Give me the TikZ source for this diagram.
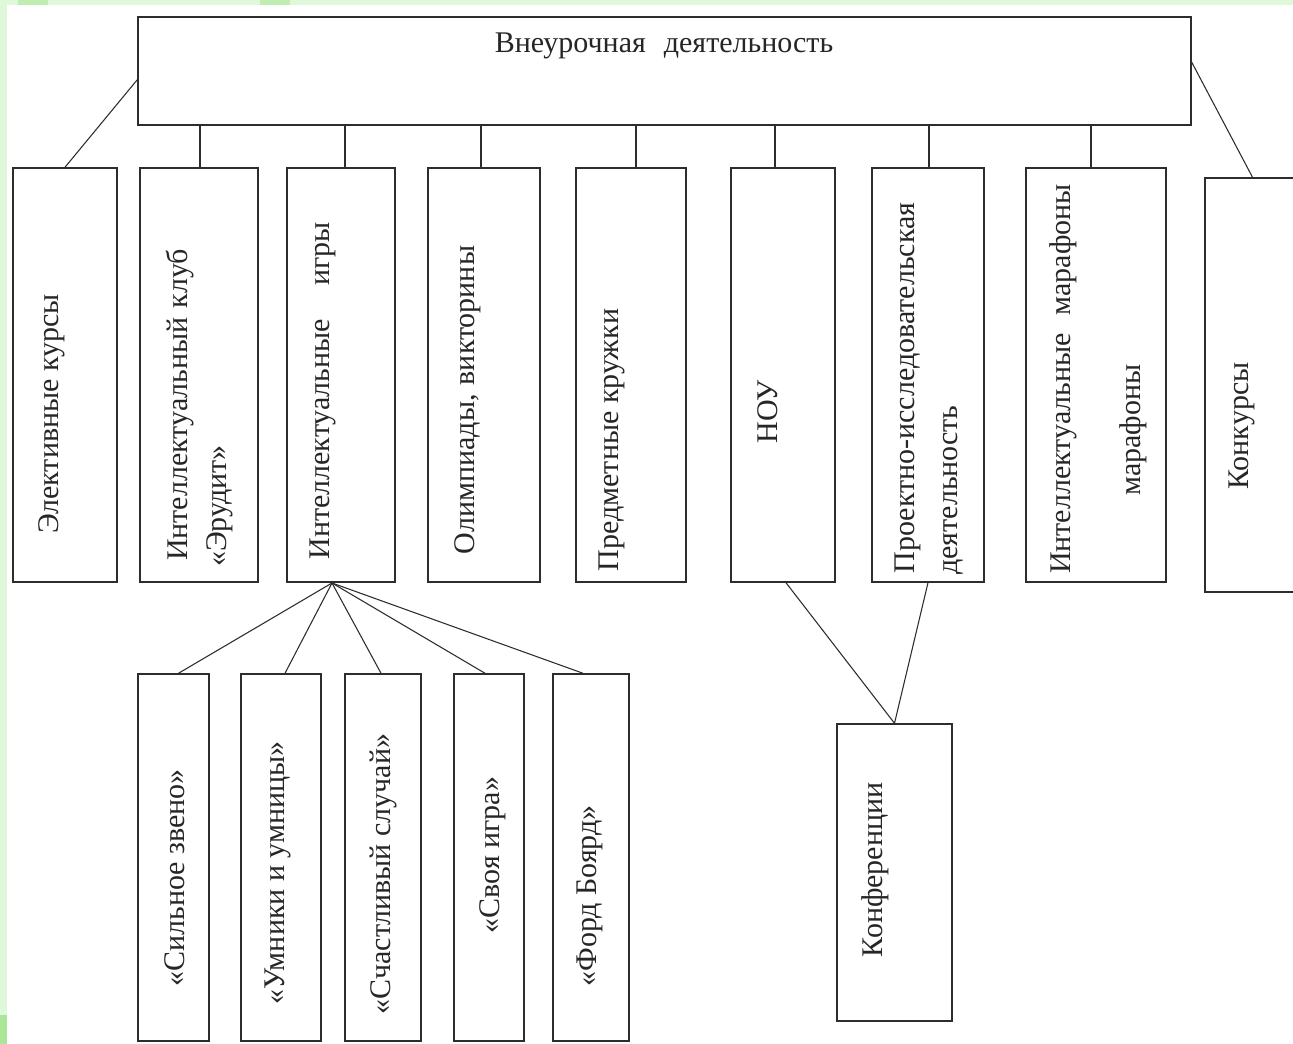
\documentclass[tikz,border=0pt]{standalone}
\usepackage{fontspec}
\setmainfont{Liberation Serif}
\usetikzlibrary{fit,calc}

\definecolor{lineGray}{RGB}{45,45,45}
\definecolor{paleGreen}{RGB}{224,248,218}
\definecolor{spotGreen}{RGB}{170,230,150}

\tikzset{
  box/.style={draw=lineGray, line width=1.1pt, inner sep=0pt, fill=white},
  link/.style={draw=lineGray, line width=0.8pt},
  htext/.style={inner sep=0.75pt, font=\fontsize{22.5}{27}\selectfont, text=black!85},
  vtext/.style={htext, rotate=90},
}

\begin{document}
\begin{tikzpicture}[x=0.75pt,y=0.75pt,yscale=-1,xscale=1]
\useasboundingbox (0,0) rectangle (1293,1044);
\clip (0,0) rectangle (1293,1044);

%Shape: Frame
\fill[white] (0,0) rectangle (1293,1044);
\fill[paleGreen] (0,0) rectangle (1293,5);
\fill[paleGreen] (0,0) rectangle (7,1044);
\fill[spotGreen!60!paleGreen] (18,0) rectangle (48,5);
\fill[spotGreen!60!paleGreen] (260,0) rectangle (290,5);
\fill[spotGreen] (0,1015) rectangle (7,1044);

%Shape: Rectangle (top)
\node[box, fit={(138,17) (1191,125)}] (vneur) {};
%Shape: Rectangles (first row)
\node[box, fit={(13,168) (117,582)}] (elek) {};
\node[box, fit={(140,168) (258,582)}] (klub) {};
\node[box, fit={(287,168) (395,582)}] (igry) {};
\node[box, fit={(428,168) (540,582)}] (olimp) {};
\node[box, fit={(576,168) (686,582)}] (kruzh) {};
\node[box, fit={(731,168) (835,582)}] (nou) {};
\node[box, fit={(872,168) (984,582)}] (proekt) {};
\node[box, fit={(1026,168) (1166,582)}] (marafon) {};
\node[box, fit={(1205,178) (1300,592)}] (konkurs) {};
%Shape: Rectangles (games)
\node[box, fit={(138,674) (209,1041)}] (zveno) {};
\node[box, fit={(241,674) (321,1041)}] (umniki) {};
\node[box, fit={(345,674) (421,1041)}] (sluchai) {};
\node[box, fit={(454,674) (524,1041)}] (svoya) {};
\node[box, fit={(553,674) (629,1041)}] (boyard) {};
%Shape: Rectangle (conferences)
\node[box, fit={(837,724) (952,1021)}] (konf) {};

%Straight Lines
\draw[link] ($(vneur.north west)!0.58!(vneur.south west)$) -- (elek.north);
\draw[link] ($(vneur.north east)!0.42!(vneur.south east)$) -- (konkurs.north);
\foreach \n/\dx in {klub/1,igry/4,olimp/-3,kruzh/5,nou/-8,proekt/1,marafon/-5}
  \draw[link] ([xshift=\dx*0.75pt]\n.north) -- ([xshift=\dx*0.75pt]\n.north |- vneur.south);
%Straight Lines
\coordinate (fan) at (332,583);
\foreach \n/\dx in {zveno/5,umniki/4,sluchai/-2,svoya/-4,boyard/-8}
  \draw[link] (fan) -- ([xshift=\dx*0.75pt]\n.north);
%Straight Lines
\draw[link] ([xshift=3*0.75pt]nou.south) -- (konf.north) -- (proekt.south);

% Text Node
\node[htext] (vneurT) at (664,46) {Внеурочная\hspace{0.6em}деятельность};
% Text Node
\node[vtext] (elekT) at (52,414) {Элективные курсы};
% Text Node
\node[vtext] (klubT) at (180,405) {Интеллектуальный\hspace{0.3em}клуб};
\node[vtext] (klubT2) at (220,506) {«Эрудит»};
% Text Node
\node[vtext] (igryT) at (323,391) {Интеллектуальные\hspace{1.1em}игры};
% Text Node
\node[vtext] (olimpT) at (468,400) {Олимпиады,\hspace{0.3em}викторины};
% Text Node
\node[vtext] (kruzhT) at (612,440) {Предметные кружки};
% Text Node
\node[vtext] (nouT) at (768,412) {НОУ};
% Text Node
\node[vtext] (proektT) at (908,388) {Проектно-исследовательская};
\node[vtext] (proektT2) at (953,490) {деятельность};
% Text Node
\node[vtext] (marafonT) at (1063,379) {Интеллектуальные\hspace{0.6em}марафоны};
\node[vtext] (marafonT2) at (1133,430) {марафоны};
% Text Node
\node[vtext] (konkursT) at (1242,426) {Конкурсы};
% Text Node
\node[vtext] (zvenoT) at (175,878) {«Сильное звено»};
\node[vtext] (umnikiT) at (278,873) {«Умники и умницы»};
\node[vtext] (sluchaiT) at (383,874) {«Счастливый случай»};
\node[vtext] (svoyaT) at (493,855) {«Своя игра»};
\node[vtext] (boyardT) at (590,896) {«Форд Боярд»};
% Text Node
\node[vtext] (konfT) at (875,870) {Конференции};

\end{tikzpicture}
\end{document}
